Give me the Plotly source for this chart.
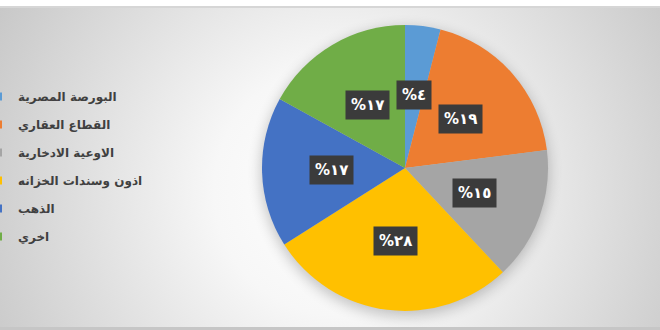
import base64, math
import plotly.graph_objects as go

# ---- data ----
categories = ["البورصة المصرية", "القطاع العقاري", "الاوعية الادخارية",
              "اذون وسندات الخزانه", "الذهب", "اخري"]
values = [4, 19, 15, 28, 17, 17]
value_labels = ["%٤", "%١٩", "%١٥", "%٢٨", "%١٧", "%١٧"]
colors = ["#5B9BD5", "#ED7D31", "#A5A5A5", "#FFC000", "#4472C4", "#70AD47"]

W, H = 660, 330
# pie geometry (pixels)
CX, CY, R = 405, 168, 143

svg = f"""<svg xmlns='http://www.w3.org/2000/svg' width='{W}' height='{H}' viewBox='0 0 {W} {H}'>
<defs>
<radialGradient id='g' cx='340' cy='190' r='420' gradientUnits='userSpaceOnUse'>
<stop offset='0' stop-color='#ffffff'/>
<stop offset='0.3' stop-color='#f7f7f7'/>
<stop offset='1' stop-color='#c2c2c2'/>
</radialGradient>
<filter id='b' x='-50%' y='-50%' width='200%' height='200%'><feGaussianBlur stdDeviation='7'/></filter>
</defs>
<rect width='{W}' height='{H}' fill='url(#g)'/>
<rect width='{W}' height='6' fill='#ffffff'/>
<rect y='6' width='{W}' height='2' fill='#d6d6d6'/>
<rect y='327' width='{W}' height='3' fill='#c6c6c6'/>
<circle cx='{CX}' cy='{CY+4}' r='{R+1}' fill='#000' opacity='0.22' filter='url(#b)'/>
</svg>"""
src = "data:image/svg+xml;base64," + base64.b64encode(svg.encode()).decode()

fig = go.Figure()
fig.add_trace(go.Pie(
    labels=categories, values=values, sort=False, direction="clockwise",
    rotation=0, marker=dict(colors=colors, line=dict(width=0)),
    textinfo="none", showlegend=False,
    domain=dict(x=[(CX - R) / W, (CX + R) / W],
                y=[(H - CY - R) / H, (H - CY + R) / H]),
))

# legend entries (one group per category for spacing)
for cat, col in zip(categories, colors):
    fig.add_trace(go.Scatter(
        x=[None], y=[None], mode="markers", name=cat, legendgroup=cat,
        marker=dict(symbol="square", size=8, color=col), showlegend=True,
        hoverinfo="skip"))

# data labels placed at mid-angle of each slice
total = sum(values)
cum = 0
ann = []
for v, lab in zip(values, value_labels):
    mid = (cum + v / 2) / total * 2 * math.pi
    cum += v
    r = 0.515 * R
    px = CX + r * math.sin(mid)
    py = (H - CY) + r * math.cos(mid)
    ann.append(dict(x=px / W, y=py / H, xref="paper", yref="paper",
                    xanchor="center", yanchor="middle",
                    text=lab, showarrow=False, bgcolor="#3b3b3b",
                    borderpad=5,
                    font=dict(family="DejaVu Sans", size=15, color="white",
                              weight="bold")))

fig.update_layout(
    width=W, height=H,
    margin=dict(l=0, r=0, t=0, b=0, autoexpand=False),
    paper_bgcolor="#d8d8d8", plot_bgcolor="rgba(0,0,0,0)",
    xaxis=dict(visible=False), yaxis=dict(visible=False),
    images=[dict(source=src, xref="paper", yref="paper", x=0, y=1,
                 sizex=1, sizey=1, sizing="stretch", layer="below",
                 xanchor="left", yanchor="top")],
    legend=dict(x=-22 / W, y=(H - 82) / H, xanchor="left", yanchor="top",
                bgcolor="rgba(0,0,0,0)", tracegroupgap=9,
                traceorder="grouped",
                font=dict(family="DejaVu Sans", size=12, color="#404040",
                          weight="bold")),
    annotations=ann,
)

fig.write_html("out.html")
